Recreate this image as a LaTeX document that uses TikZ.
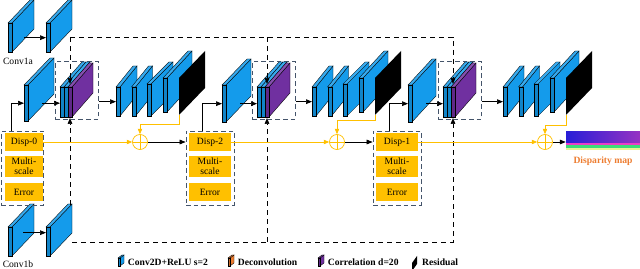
\documentclass[tikz,border=0pt]{standalone}
\usepackage{fontspec}
\setmainfont{Liberation Serif}
\usepackage{xcolor}
\usepackage{tikz}
\usetikzlibrary{positioning,arrows.meta,calc}
\definecolor{convblue}{RGB}{20,155,235}
\definecolor{corrpurple}{RGB}{112,48,160}
\definecolor{deconvorange}{RGB}{237,125,49}
\definecolor{dispgold}{RGB}{255,192,0}
\definecolor{boxnavy}{RGB}{68,84,106}
\definecolor{mapblue}{RGB}{40,30,215}
\definecolor{mappurple}{RGB}{150,50,195}
\definecolor{mappink}{RGB}{235,60,200}
\definecolor{mapgreen}{RGB}{60,220,120}
\definecolor{mapyellow}{RGB}{230,245,150}
% slab: [thickness]{name}{x}{ytop}{height}{dx}{dy}{colour}
\newcommand{\slab}[8][4]{%
  \filldraw[#8, draw=black, line width=0.3pt] (#3,#4) ++(#1,0) -- ++(#6,#7) -- ++(0,#5) -- ++({-(#6)},{-(#7)}) -- cycle;
  \filldraw[#8!85!white, draw=black, line width=0.3pt] (#3,#4) -- ++(#6,#7) -- ++(#1,0) -- ++({-(#6)},{-(#7)}) -- cycle;
  \node[draw, fill=#8!85!black, line width=0.3pt, inner sep=0pt, minimum width=#1*0.3mm, minimum height=#5*0.3mm, anchor=north west] (#2) at (#3,#4) {};}
% residual: {name}{x}{ytop}{height}{dx}{dy}
\newcommand{\resid}[6]{%
  \fill[black] (#2,#3) -- ++(#5,#6) -- ++(0,#4) -- ++({-(#5)},{-(#6)}) -- cycle;
  \path (#2,#3) ++(0,#4) coordinate (#1);}

\begin{document}
\begin{tikzpicture}[x=0.3mm, y=-0.3mm,
  font=\fontsize{8.2}{8.8}\selectfont,
  arr/.style={line width=0.6pt, -{Triangle[length=1.8mm,width=1.4mm]}},
  skipline/.style={line width=0.7pt, dash pattern=on 1.6mm off 1.1mm},
  yline/.style={draw=dispgold, line width=0.6pt, -{Triangle[length=1.6mm,width=1.3mm]}},
  corrbox/.style={draw=boxnavy, dash pattern=on 1.4mm off 0.9mm, line width=0.7pt, minimum width=12.9mm, minimum height=17.4mm, inner sep=0pt},
  grpbox/.style={corrbox, minimum width=14.4mm, minimum height=22.2mm},
  dispbox/.style={fill=dispgold, minimum width=12.6mm, minimum height=5.4mm, inner sep=0pt, align=center},
  sumnode/.style={circle, draw=dispgold, line width=0.6pt, minimum size=4.5mm, inner sep=0pt,
    path picture={\draw[dispgold, line width=0.6pt] (path picture bounding box.north) -- (path picture bounding box.south)
      (path picture bounding box.west) -- (path picture bounding box.east);}},
  legtext/.style={font=\fontsize{8.2}{8.8}\selectfont\bfseries, inner sep=0pt}]
\useasboundingbox (0,0) rectangle (640,269);

% input branches
\slab{conva1}{8}{23}{29}{22}{-23}{convblue}
\slab{conva2}{46}{23}{29}{22}{-23}{convblue}
\slab{convb1}{8}{227}{29}{22}{-23}{convblue}
\slab{convb2}{46}{227}{29}{22}{-23}{convblue}
\node (lbla) at (18,61) {Conv1a};
\node (lblb) at (18,264) {Conv1b};
\draw[arr] ($(conva1.east)+(12,0)$) -- (conva2.west);
\draw[arr] ($(convb1.east)+(11,-9)$) -- ($(convb2.west)+(0,-9)$);

% disparity stages
\node[grpbox, minimum width=12.6mm] (grp0) at (22.5,168) {};
\node[dispbox, minimum width=11.4mm] (d0) at (24,142) {Disp-0};
\node[dispbox, minimum width=11.4mm, minimum height=6.3mm] (ms0) at (24,166.5) {Multi-\\scale};
\node[dispbox, minimum width=11.4mm] (err0) at (24,192) {Error};
\node[grpbox] (grp2) at (210,168) {};
\node[dispbox] (d2) at (210,142) {Disp-2};
\node[dispbox, minimum height=6.3mm] (ms2) at (210,166.5) {Multi-\\scale};
\node[dispbox] (err2) at (210,192) {Error};
\node[grpbox] (grp1) at (397,168) {};
\node[dispbox] (d1) at (397,142) {Disp-1};
\node[dispbox, minimum height=6.3mm] (ms1) at (397,166.5) {Multi-\\scale};
\node[dispbox] (err1) at (397,192) {Error};

% feature slabs
\slab{convA}{24}{85}{36}{26}{-27}{convblue}
\slab{convB}{222}{85}{37}{25}{-26}{convblue}
\slab{convC}{408}{85}{37}{24}{-26}{convblue}
\foreach \c/\cx in {1/55, 2/252, 3/438} {
  \node[corrbox, anchor=north west] (cb\c) at (\cx,61) {};
  \slab{cb\c-a}{\cx+5}{87}{30}{22}{-25}{convblue}
  \slab{cb\c-b}{\cx+9}{87}{30}{22}{-25}{convblue}
  \slab{cb\c-p}{\cx+13}{87}{30}{21}{-24}{corrpurple}
  \coordinate (cb\c-top) at (\cx+15,84);
  \coordinate (cb\c-bot) at (\cx+15,118);
}
\foreach \g/\gx in {1/116, 2/312, 3/503} {
  \slab{g\g-a}{\gx}{87}{29}{17}{-21}{convblue}
  \slab{g\g-b}{\gx+15.5}{87}{29}{17}{-21}{convblue}
  \slab{g\g-c}{\gx+31}{84}{32}{22}{-22}{convblue}
  \slab{g\g-d}{\gx+47}{78}{34}{25}{-27}{convblue}
  \resid{g\g-r}{\gx+63}{78}{37}{26}{-27}
}

% sums and output
\node[sumnode] (sum1) at (140,142) {};
\node[sumnode] (sum2) at (337,142) {};
\node[sumnode] (sum3) at (545,142) {};
\node[minimum width=22.2mm, minimum height=5.4mm, inner sep=0pt, left color=mapblue, right color=mappurple] (dmap) at (603,141) {};
\fill[mappink] ($(dmap.south west)+(0,-7)$) rectangle ($(dmap.south east)+(0,-5)$);
\fill[mapgreen] ($(dmap.south west)+(0,-5)$) rectangle ($(dmap.south east)+(0,-2)$);
\fill[mapyellow] ($(dmap.south west)+(0,-2)$) rectangle (dmap.south east);
\node[below=1.8mm of dmap, inner sep=0pt, font=\fontsize{8.2}{8.8}\selectfont\bfseries, text=deconvorange] (dmaplbl) {Disparity map};

% skip connections
\coordinate (ta) at (70,37);
\coordinate (ba) at (72,242);
\coordinate (bs) at (70,205);
\draw[skipline, arr] (ta) -| (cb3-top);
\draw[skipline, arr] (ta) -- (cb1-top);
\draw[skipline, arr] (ta -| cb2-top) -- (cb2-top);
\draw[skipline, arr] (ba) -| (cb3-bot);
\draw[skipline, arr] (bs) -- (cb1-bot);
\draw[skipline, arr] (ba -| cb2-bot) -- (cb2-bot);

% main flow
\draw[arr] ([xshift=3.2mm]grp0.north west) |- (convA.west);
\draw[arr] ([xshift=5mm]grp2.north west) |- (convB.west);
\draw[arr] ([xshift=5mm]grp1.north west) |- (convC.west);
\draw[arr] ($(convA.east)+(14,0)$) -- (convA.east -| cb1-a.west);
\draw[arr] ($(convB.east)+(14,0)$) -- (convB.east -| cb2-a.west);
\draw[arr] ($(convC.east)+(14,0)$) -- (convC.east -| cb3-a.west);
\draw[arr] (cb1.east |- g1-a.west) -- (g1-a.west);
\draw[arr] (cb2.east |- g2-a.west) -- (g2-a.west);
\draw[arr] (cb3.east |- g3-a.west) -- (g3-a.west);
\draw[yline] (d0.east) -- (sum1.west);
\draw[yline] (d2.east) -- (sum2.west);
\draw[yline] (d1.east) -- (sum3.west);
\draw[yline] (g1-r) -- ++(0,9) -| (sum1.north);
\draw[yline] (g2-r) -- ++(0,5) -| (sum2.north);
\draw[yline] (g3-r) -- ++(0,10) -| (sum3.north);
\draw[arr] (sum1.east) -- (grp2.west |- sum1.east);
\draw[arr] (sum2.east) -- (grp1.west |- sum2.east);
\draw[arr] (sum3.east) -- (sum3.east -| dmap.west);

% legend
\slab[2]{lgconv}{118}{258}{8}{4}{-3}{convblue}
\slab[2]{lgdeconv}{228}{258}{8}{4}{-3}{deconvorange}
\slab[2]{lgcorr}{318}{258}{8}{4}{-3}{corrpurple}
\resid{lgres}{412}{263}{8}{5}{-7}
\node[legtext, right=2.2mm of lgconv] (lt1) {Conv2D+ReLU s=2};
\node[legtext, right=2.2mm of lgdeconv] (lt2) {Deconvolution};
\node[legtext, right=2.2mm of lgcorr] (lt3) {Correlation d=20};
\node[legtext, anchor=west] (lt4) at ($(lgres)+(10,-9)$) {Residual};
\end{tikzpicture}
\end{document}
